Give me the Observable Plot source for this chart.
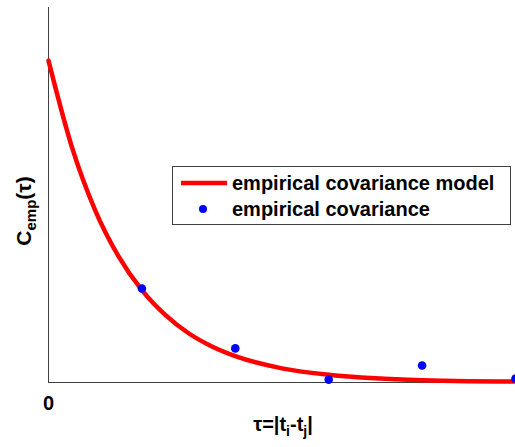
<!DOCTYPE html>
<html>
<head>
<meta charset="utf-8">
<script src="https://cdn.jsdelivr.net/npm/d3@7"></script>
<script src="https://cdn.jsdelivr.net/npm/@observablehq/plot@0.6"></script>
<style>
  html, body { margin: 0; padding: 0; background: #fff; }
  svg { display: block; }
</style>
</head>
<body>
<div id="chart"></div>
<script>
// Empirical covariance points (lag tau, value)
const empTau = [1, 2, 3, 4, 5];
const empC = [0.292, 0.106, 0.009, 0.053, 0.012];

// Model curve
const modelTau = [0, 0.25, 0.5, 0.75, 1, 1.25, 1.5, 1.75, 2, 2.5, 3, 3.5, 4, 4.5, 5];
const modelC = [1.0, 0.732, 0.535, 0.392, 0.287, 0.210, 0.153, 0.112, 0.082, 0.044, 0.024, 0.013, 0.007, 0.004, 0.003];

const xTicks = [0];
const xTickLabels = ["0"];
const legendLabels = ["empirical covariance model", "empirical covariance"];

const empData = empTau.map((t, i) => ({tau: t, c: empC[i]}));
const modelData = modelTau.map((t, i) => ({tau: t, c: modelC[i]}));

const W = 515, H = 447;
const fontFam = "'Liberation Sans', Arial, sans-serif";

const plot = Plot.plot({
  width: W,
  height: H,
  marginLeft: 48,
  marginRight: 0,
  marginTop: 7,
  marginBottom: 65,
  style: {fontFamily: fontFam, background: "#fff", overflow: "hidden"},
  x: {domain: [0, 5]},
  y: {domain: [0, 1.165]},
  marks: [
    Plot.axisX({ticks: xTicks, tickFormat: (d, i) => xTickLabels[i], tickSize: 0, tickPadding: 13, label: null, fontSize: 20, fontWeight: "bold", fill: "#000"}),
    Plot.axisY({ticks: [], label: null}),
    Plot.ruleX([0], {stroke: "#404040", strokeWidth: 1}),
    Plot.ruleY([0], {stroke: "#404040", strokeWidth: 1}),
    Plot.line(modelData, {x: "tau", y: "c", stroke: "red", strokeWidth: 4.5, curve: "monotone-x"}),
    Plot.dot(empData, {x: "tau", y: "c", fill: "blue", r: 4.3, stroke: "none"})
  ]
});

document.getElementById("chart").appendChild(plot);

const svg = d3.select(plot);

// X label: τ=|t_i-t_j|
const xl = svg.append("text")
  .attr("x", 283).attr("y", 431)
  .attr("text-anchor", "middle")
  .attr("font-family", fontFam)
  .attr("font-size", 20).attr("font-weight", "bold").attr("fill", "#000");
xl.append("tspan").text("τ=|t");
xl.append("tspan").attr("font-size", 14).attr("dy", 5).text("i");
xl.append("tspan").attr("dy", -5).text("-t");
xl.append("tspan").attr("font-size", 14).attr("dy", 5).text("j");
xl.append("tspan").attr("dy", -5).text("|");

// Y label: C_emp(τ)
const yl = svg.append("text")
  .attr("transform", "translate(31,211) rotate(-90)")
  .attr("text-anchor", "middle")
  .attr("font-family", fontFam)
  .attr("font-size", 21).attr("font-weight", "bold").attr("fill", "#000");
yl.append("tspan").text("C");
yl.append("tspan").attr("font-size", 15).attr("dy", 5).text("emp");
yl.append("tspan").attr("dy", -5).text("(τ)");

// Legend
const lg = svg.append("g");
lg.append("rect").attr("x", 172.5).attr("y", 166.5).attr("width", 338).attr("height", 58)
  .attr("fill", "#fff").attr("stroke", "#404040").attr("stroke-width", 1);
lg.append("line").attr("x1", 181).attr("x2", 227).attr("y1", 183).attr("y2", 183)
  .attr("stroke", "red").attr("stroke-width", 4.5);
lg.append("circle").attr("cx", 203).attr("cy", 209).attr("r", 4).attr("fill", "blue");
legendLabels.forEach((t, i) => {
  lg.append("text").attr("x", 232).attr("y", 190 + i * 26)
    .attr("text-anchor", "start")
    .attr("font-family", fontFam).attr("font-size", 20).attr("font-weight", "bold")
    .attr("textLength", null)
    .attr("fill", "#000").text(t);
});
</script>
</body>
</html>
